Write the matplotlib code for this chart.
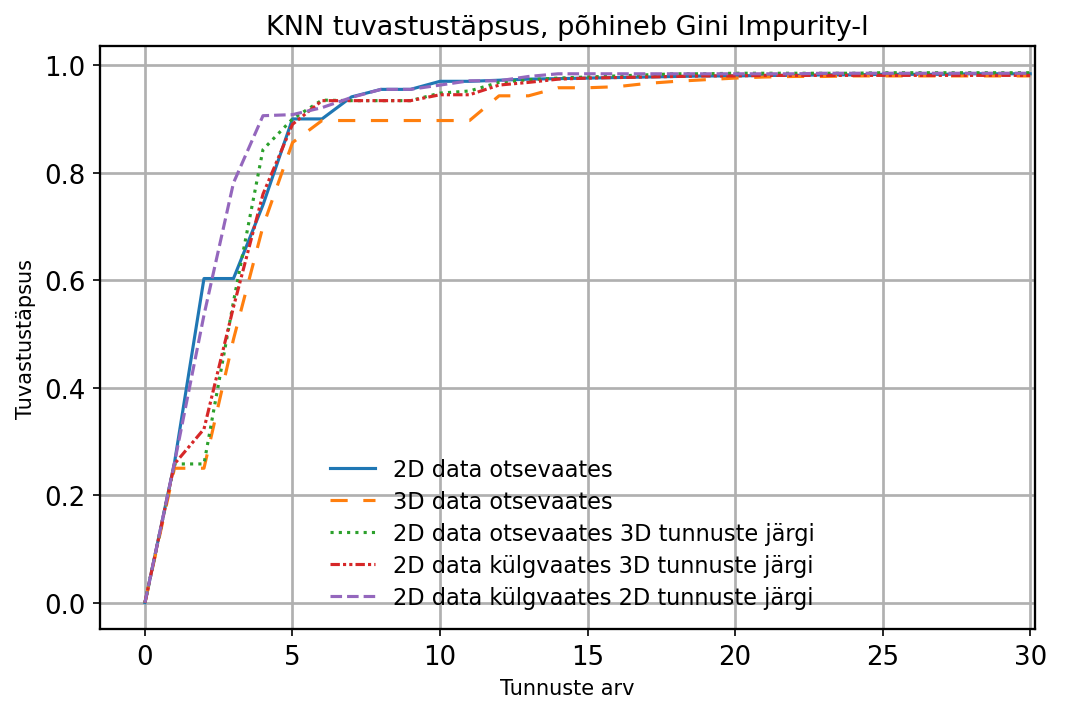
import numpy as np
import matplotlib
matplotlib.use('Agg')
import matplotlib.pyplot as plt

# tunnuste arv
x = list(range(31))

acc_2d_otse = [0, 0.26, 0.603, 0.603, 0.74, 0.90, 0.90, 0.941, 0.955, 0.955,
               0.970, 0.970, 0.972, 0.974, 0.975, 0.976, 0.977, 0.978, 0.979, 0.980,
               0.980, 0.981, 0.981, 0.982, 0.982, 0.983, 0.983, 0.983, 0.984, 0.984, 0.984]
acc_3d_otse = [0, 0.25, 0.25, 0.49, 0.70, 0.856, 0.897, 0.897, 0.897, 0.897,
               0.897, 0.897, 0.943, 0.943, 0.958, 0.958, 0.960, 0.966, 0.970, 0.973,
               0.976, 0.978, 0.979, 0.979, 0.980, 0.980, 0.980, 0.980, 0.980, 0.980, 0.980]
acc_2d_otse_3d = [0, 0.258, 0.258, 0.56, 0.843, 0.90, 0.935, 0.934, 0.934, 0.934,
                  0.948, 0.952, 0.968, 0.973, 0.976, 0.978, 0.980, 0.982, 0.984, 0.984,
                  0.985, 0.985, 0.985, 0.985, 0.985, 0.986, 0.986, 0.986, 0.986, 0.986, 0.986]
acc_2d_kulg_3d = [0, 0.258, 0.323, 0.55, 0.76, 0.89, 0.934, 0.934, 0.934, 0.934,
                  0.945, 0.945, 0.963, 0.968, 0.974, 0.976, 0.977, 0.978, 0.979, 0.980,
                  0.980, 0.981, 0.981, 0.981, 0.981, 0.981, 0.981, 0.981, 0.981, 0.981, 0.981]
acc_2d_kulg_2d = [0, 0.26, 0.535, 0.781, 0.906, 0.908, 0.921, 0.940, 0.955, 0.955,
                  0.963, 0.971, 0.971, 0.979, 0.984, 0.984, 0.984, 0.984, 0.984, 0.984,
                  0.984, 0.984, 0.984, 0.985, 0.985, 0.985, 0.985, 0.985, 0.985, 0.985, 0.985]

labels = ['2D data otsevaates',
          '3D data otsevaates',
          '2D data otsevaates 3D tunnuste järgi',
          '2D data külgvaates 3D tunnuste järgi',
          '2D data külgvaates 2D tunnuste järgi']

fig = plt.figure(figsize=(7.1, 4.693), dpi=150)
ax = fig.add_axes([0.094, 0.105, 0.878, 0.828])

ax.plot(x, acc_2d_otse, color='tab:blue', ls='-', label=labels[0])
ax.plot(x, acc_3d_otse, color='tab:orange', ls=(0, (5.5, 5)), label=labels[1])
ax.plot(x, acc_2d_otse_3d, color='tab:green', ls=':', label=labels[2])
ax.plot(x, acc_2d_kulg_3d, color='tab:red', ls=(0, (3, 1, 1, 1, 1, 1)), label=labels[3])
ax.plot(x, acc_2d_kulg_2d, color='tab:purple', ls='--', label=labels[4])

ax.set_xlim(-1.52, 30.17)
ax.grid(True, color='#b0b0b0', lw=1.3)
for s in ax.spines.values():
    s.set_linewidth(1.1)
ax.tick_params(labelsize=12.5)
ax.set_title('KNN tuvastustäpsus, põhineb Gini Impurity-l', fontsize=13)
ax.set_xlabel('Tunnuste arv', fontsize=10)
ax.set_ylabel('Tuvastustäpsus', fontsize=10)
ax.legend(loc='lower center', frameon=False, fontsize=10.8,
          bbox_to_anchor=(0.505, 0.0), labelspacing=0.4)

fig.savefig('out.png', dpi=150)
